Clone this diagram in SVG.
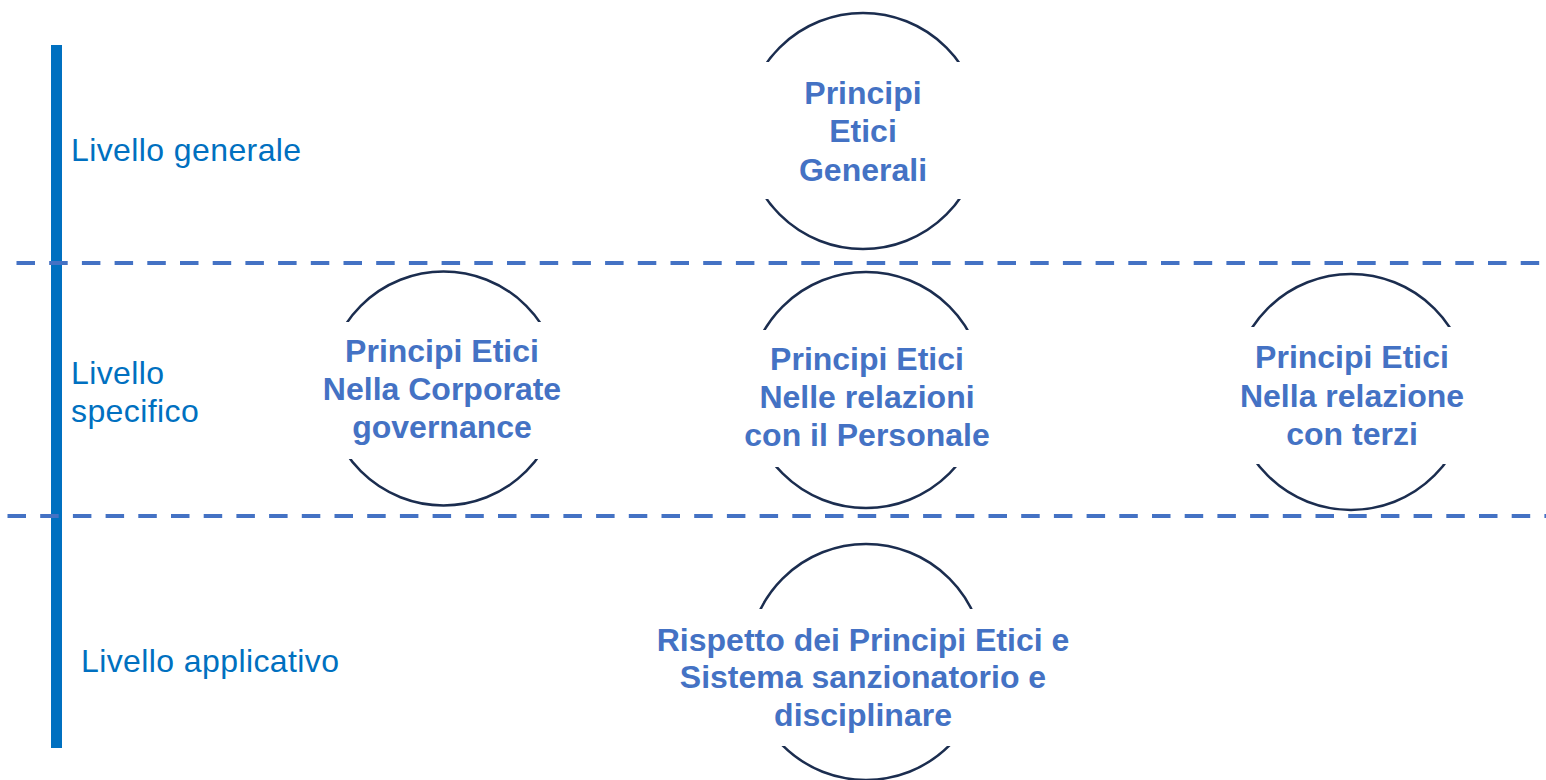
<svg xmlns="http://www.w3.org/2000/svg" width="1546" height="780" viewBox="0 0 1546 780">
<style>
.bg{fill:#ffffff}
.ring{fill:none;stroke:#1B2D4F;stroke-width:2.5}
.mask{fill:#ffffff}
.lvl{font-family:"Liberation Sans",Arial,sans-serif;font-size:32px;letter-spacing:0.4px;fill:#0070C0}
.nt{font-family:"Liberation Sans",Arial,sans-serif;font-size:32px;font-weight:bold;fill:#4472C4;text-anchor:middle}
.dash{stroke:#4472C4;stroke-width:4;stroke-dasharray:18.5 14.2;fill:none}
.bar{fill:#0070C0}
</style>
<rect class="bg" x="0" y="0" width="1546" height="780"/>
<g id="axis">
<rect class="bar" x="51" y="45" width="11" height="703"/>
</g>
<g id="separators">
<line class="dash" x1="16.5" y1="263" x2="1546" y2="263"/>
<line class="dash" x1="7.5" y1="516" x2="1546" y2="516"/>
</g>
<g id="levels">
<text class="lvl" x="71" y="161">Livello generale</text>
<text class="lvl" x="71" y="384">Livello</text>
<text class="lvl" x="71" y="422">specifico</text>
<text class="lvl" x="81" y="672">Livello applicativo</text>
</g>
<g id="connectors"></g>
<g id="node-generali">
<circle class="ring" cx="863" cy="131" r="118"/>
<rect class="mask" x="735" y="62" width="256" height="137"/>
<text class="nt" x="863" y="104">Principi</text>
<text class="nt" x="863" y="142">Etici</text>
<text class="nt" x="863" y="181">Generali</text>
</g>
<g id="node-governance">
<circle class="ring" cx="443.5" cy="388.5" r="117"/>
<rect class="mask" x="315" y="322" width="257" height="137"/>
<text class="nt" x="442" y="362">Principi Etici</text>
<text class="nt" x="442" y="400">Nella Corporate</text>
<text class="nt" x="442" y="438">governance</text>
</g>
<g id="node-personale">
<circle class="ring" cx="866" cy="390" r="118"/>
<rect class="mask" x="738" y="330" width="256" height="137"/>
<text class="nt" x="867" y="370">Principi Etici</text>
<text class="nt" x="867" y="408">Nelle relazioni</text>
<text class="nt" x="867" y="446">con il Personale</text>
</g>
<g id="node-terzi">
<circle class="ring" cx="1351" cy="392" r="118"/>
<rect class="mask" x="1223" y="327" width="256" height="137"/>
<text class="nt" x="1352" y="368">Principi Etici</text>
<text class="nt" x="1352" y="407">Nella relazione</text>
<text class="nt" x="1352" y="445">con terzi</text>
</g>
<g id="node-applicativo">
<circle class="ring" cx="866" cy="662" r="118"/>
<rect class="mask" x="738" y="609" width="256" height="137"/>
<text class="nt" x="863" y="651">Rispetto dei Principi Etici e</text>
<text class="nt" x="863" y="688">Sistema sanzionatorio e</text>
<text class="nt" x="863" y="726">disciplinare</text>
</g>
</svg>
